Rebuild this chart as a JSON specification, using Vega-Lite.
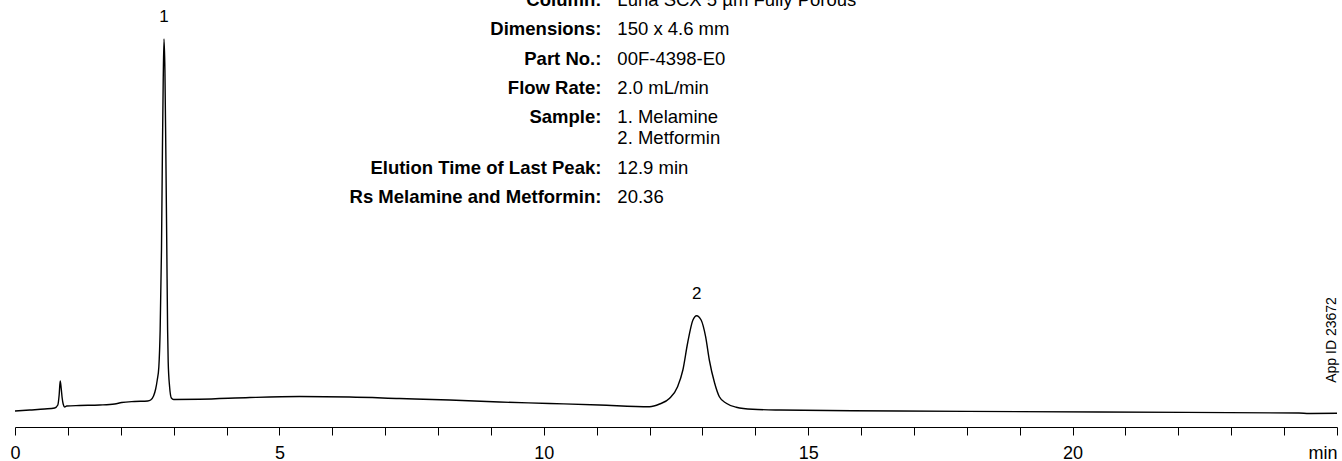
{
  "$schema": "https://vega.github.io/schema/vega-lite/v6.json",
  "width": 1322,
  "height": 427,
  "autosize": {"type": "none"},
  "padding": {"left": 15, "right": 5, "top": 0, "bottom": 34},
  "background": "white",
  "config": {"view": {"stroke": null}, "font": "Liberation Sans"},
  "datasets": {
    "trace": [
      {"t": 0.00, "s": 16}, {"t": 0.28, "s": 17}, {"t": 0.56, "s": 18}, {"t": 0.75, "s": 19},
      {"t": 0.81, "s": 22}, {"t": 0.835, "s": 32}, {"t": 0.855, "s": 46}, {"t": 0.873, "s": 39},
      {"t": 0.892, "s": 29}, {"t": 0.911, "s": 23}, {"t": 0.94, "s": 20}, {"t": 0.977, "s": 21},
      {"t": 1.22, "s": 21.5}, {"t": 1.60, "s": 22}, {"t": 1.885, "s": 23}, {"t": 2.017, "s": 24.5},
      {"t": 2.26, "s": 25.5}, {"t": 2.51, "s": 26}, {"t": 2.565, "s": 27}, {"t": 2.62, "s": 31},
      {"t": 2.66, "s": 38}, {"t": 2.69, "s": 47}, {"t": 2.72, "s": 60}, {"t": 2.745, "s": 97},
      {"t": 2.77, "s": 177}, {"t": 2.788, "s": 277}, {"t": 2.803, "s": 347}, {"t": 2.818, "s": 388},
      {"t": 2.835, "s": 357}, {"t": 2.852, "s": 277}, {"t": 2.871, "s": 177}, {"t": 2.886, "s": 97},
      {"t": 2.897, "s": 65}, {"t": 2.924, "s": 40}, {"t": 2.957, "s": 29}, {"t": 3.00, "s": 27.5},
      {"t": 3.49, "s": 27.7}, {"t": 4.44, "s": 29.5}, {"t": 5.38, "s": 30.5}, {"t": 6.33, "s": 30},
      {"t": 7.27, "s": 28.5}, {"t": 8.22, "s": 27}, {"t": 9.16, "s": 25}, {"t": 10.11, "s": 23.5},
      {"t": 11.05, "s": 22}, {"t": 12.0, "s": 20.3}, {"t": 12.19, "s": 23}, {"t": 12.38, "s": 28.7},
      {"t": 12.53, "s": 40.3}, {"t": 12.63, "s": 57}, {"t": 12.72, "s": 84}, {"t": 12.82, "s": 107},
      {"t": 12.89, "s": 111.3}, {"t": 12.975, "s": 107}, {"t": 13.06, "s": 90.3}, {"t": 13.13, "s": 67},
      {"t": 13.23, "s": 44}, {"t": 13.32, "s": 30.3}, {"t": 13.45, "s": 23.7}, {"t": 13.64, "s": 19.7},
      {"t": 13.95, "s": 17.7}, {"t": 14.46, "s": 17}, {"t": 16.72, "s": 16}, {"t": 20.5, "s": 15},
      {"t": 24.28, "s": 14}, {"t": 24.47, "s": 13.5}, {"t": 25.0, "s": 13.7}
    ],
    "peaks": [
      {"t": 2.818, "s": 388, "label": "1"},
      {"t": 12.89, "s": 111.3, "label": "2"}
    ],
    "info": [
      {"line": 0, "key": "Column:", "val": "Luna SCX 5 µm Fully Porous"},
      {"line": 1, "key": "Dimensions:", "val": "150 x 4.6 mm"},
      {"line": 2, "key": "Part No.:", "val": "00F-4398-E0"},
      {"line": 3, "key": "Flow Rate:", "val": "2.0 mL/min"},
      {"line": 4, "key": "Sample:", "val": "1. Melamine"},
      {"line": 4.72, "key": "", "val": "2. Metformin"},
      {"line": 5.72, "key": "Elution Time of Last Peak:", "val": "12.9 min"},
      {"line": 6.72, "key": "Rs Melamine and Metformin:", "val": "20.36"}
    ],
    "note": [
      {"t": 24.9, "s": 87, "text": "App ID 23672"}
    ]
  },
  "layer": [
    {
      "data": {"name": "trace"},
      "mark": {"type": "line", "color": "#000", "strokeWidth": 1.4, "interpolate": "monotone"},
      "encoding": {
        "x": {
          "field": "t", "type": "quantitative",
          "scale": {"domain": [0, 25], "nice": false, "zero": false},
          "axis": {
            "values": [0,1,2,3,4,5,6,7,8,9,10,11,12,13,14,15,16,17,18,19,20,21,22,23,24,25],
            "labelExpr": "datum.value == 25 ? 'min' : (datum.value % 5 == 0 ? datum.label : '')",
            "title": null, "grid": false, "tickSize": 8, "tickWidth": 1, "domainWidth": 1,
            "domainColor": "#000", "tickColor": "#000",
            "labelFontSize": 18, "labelFont": "Liberation Sans", "labelColor": "#000",
            "labelPadding": 9, "labelFlush": false, "labelOverlap": false, "labelBound": false,
            "labelAlign": {"condition": {"test": "datum.value == 25", "value": "right"}, "value": "center"}
          }
        },
        "y": {"field": "s", "type": "quantitative", "scale": {"domain": [0, 427], "nice": false, "zero": false}, "axis": null}
      }
    },
    {
      "data": {"name": "peaks"},
      "mark": {"type": "text", "fontSize": 17, "color": "#000", "dy": -22, "baseline": "middle", "align": "center"},
      "encoding": {
        "x": {"field": "t", "type": "quantitative"},
        "y": {"field": "s", "type": "quantitative", "scale": {"domain": [0, 427], "nice": false, "zero": false}, "axis": null},
        "text": {"field": "label"}
      }
    },
    {
      "data": {"name": "info"},
      "mark": {"type": "text", "fontSize": 18.5, "fontWeight": "bold", "color": "#000", "align": "right", "baseline": "middle", "dx": -8},
      "encoding": {
        "x": {"datum": 11.24, "type": "quantitative"},
        "y": {"field": "line", "type": "quantitative", "scale": {"domain": [0, 14.57], "reverse": true, "nice": false, "zero": false}, "axis": null},
        "text": {"field": "key"}
      }
    },
    {
      "data": {"name": "info"},
      "mark": {"type": "text", "fontSize": 18.5, "color": "#000", "align": "left", "baseline": "middle", "dx": 8},
      "encoding": {
        "x": {"datum": 11.24, "type": "quantitative"},
        "y": {"field": "line", "type": "quantitative", "scale": {"domain": [0, 14.57], "reverse": true, "nice": false, "zero": false}, "axis": null},
        "text": {"field": "val"}
      }
    },
    {
      "data": {"name": "note"},
      "mark": {"type": "text", "fontSize": 14, "color": "#000", "angle": 270, "align": "center", "baseline": "middle"},
      "encoding": {
        "x": {"field": "t", "type": "quantitative"},
        "y": {"field": "s", "type": "quantitative", "scale": {"domain": [0, 427], "nice": false, "zero": false}, "axis": null},
        "text": {"field": "text"}
      }
    }
  ],
  "resolve": {"scale": {"y": "independent"}}
}
